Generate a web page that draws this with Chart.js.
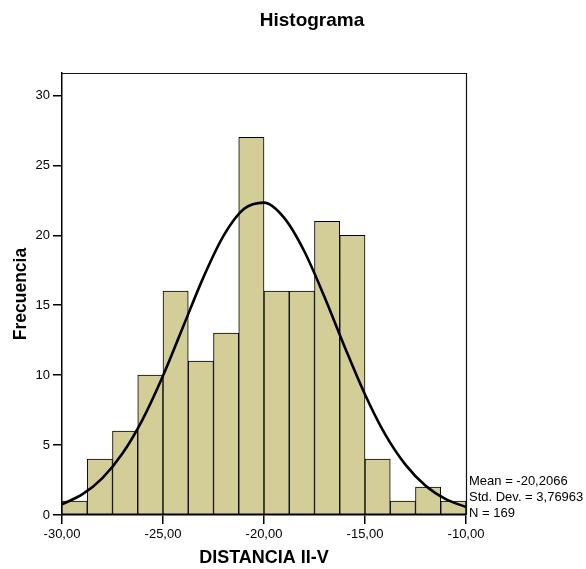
<!DOCTYPE html>
<html>
<head>
<meta charset="utf-8">
<script src="https://cdn.jsdelivr.net/npm/chart.js@4/dist/chart.umd.min.js"></script>
<style>
  body { margin: 0; background: #fff; }
  canvas { display: block; }
</style>
</head>
<body>
<canvas id="hist" width="586" height="569"></canvas>
<script>
// histogram bins (centres, width 1,25) and counts
var binCentres = [-29.375, -28.125, -26.875, -25.625, -24.375, -23.125, -21.875, -20.625,
                  -19.375, -18.125, -16.875, -15.625, -14.375, -13.125, -11.875, -10.625];
var binCounts = [1, 4, 6, 10, 16, 11, 13, 27, 16, 16, 21, 20, 4, 1, 2, 1];

// normal curve, read at each whole unit
var curveX = [-30, -29, -28, -27, -26, -25, -24, -23, -22, -21, -20,
              -19, -18, -17, -16, -15, -14, -13, -12, -11, -10];
var curveY = [0.77, 1.47, 2.64, 4.41, 6.86, 9.96, 13.48, 16.99, 19.97, 21.87, 22.33,
              21.24, 18.84, 15.57, 12.00, 8.62, 5.76, 3.60, 2.09, 1.13, 0.57];

var xTicks = [-30, -25, -20, -15, -10];
var statLines = ["Mean = -20,2066", "Std. Dev. = 3,76963", "N = 169"];

var FONT = "'Liberation Sans', Arial, sans-serif";

function commaFmt(v) {
    return v.toFixed(2).replace('.', ',');
}

// frame, title and the stats box
const extras = {
    id: 'extras',
    afterDraw(chart) {
        const ctx = chart.ctx;
        const a = chart.chartArea;
        ctx.save();
        ctx.strokeStyle = '#111';
        ctx.lineWidth = 1.2;
        ctx.beginPath();
        ctx.moveTo(a.left, a.top + 0.5);
        ctx.lineTo(a.right + 0.5, a.top + 0.5);
        ctx.lineTo(a.right + 0.5, a.bottom);
        ctx.stroke();

        ctx.fillStyle = '#000';
        ctx.font = 'bold 19px ' + FONT;
        ctx.textAlign = 'center';
        ctx.textBaseline = 'middle';
        ctx.fillText('Histograma', 312, 21);

        ctx.font = '13px ' + FONT;
        ctx.textAlign = 'left';
        for (let i = 0; i < statLines.length; i++) {
            ctx.fillText(statLines[i], a.right + 3, 481 + i * 16);
        }
        ctx.restore();
    }
};

const g1 = new Chart("hist", {
    type: "bar",
    data: {
        datasets: [{
            type: "line",
            label: "Normal",
            data: curveX.map((x, i) => ({x: x, y: curveY[i]})),
            borderColor: "#000",
            borderWidth: 2.6,
            pointRadius: 0,
            fill: false,
            cubicInterpolationMode: "monotone",
            order: 0
        }, {
            label: "Frecuencia",
            data: binCentres.map((x, i) => ({x: x, y: binCounts[i]})),
            backgroundColor: "rgb(211, 206, 152)",
            borderColor: "#000",
            borderWidth: 1,
            borderSkipped: false,
            barPercentage: 1,
            categoryPercentage: 1,
            order: 1
        }]
    },
    options: {
        responsive: false,
        animation: false,
        layout: { padding: { top: 73, right: 120, left: 0, bottom: 0 } },
        plugins: {
            legend: { display: false },
            tooltip: { enabled: false },
            title: { display: false }
        },
        scales: {
            x: {
                type: "linear",
                min: -30,
                max: -10,
                offset: false,
                afterFit: s => { s.height = 54; },
                afterBuildTicks: s => { s.ticks = xTicks.map(v => ({value: v})); },
                ticks: {
                    color: "#000",
                    font: { family: FONT, size: 13 },
                    padding: 3,
                    maxRotation: 0,
                    callback: v => commaFmt(v)
                },
                grid: { drawOnChartArea: false, offset: false, tickLength: 9, color: "#000", lineWidth: 1.5 },
                border: { color: "#000", width: 1.5 },
                title: {
                    display: true,
                    text: "DISTANCIA II-V",
                    color: "#000",
                    font: { family: FONT, size: 18, weight: "bold" },
                    padding: { top: 0, bottom: 0 }
                }
            },
            y: {
                min: 0,
                max: 31.6,
                afterFit: s => { s.width = 62; },
                ticks: {
                    stepSize: 5,
                    includeBounds: false,
                    color: "#000",
                    font: { family: FONT, size: 13 },
                    padding: 3
                },
                grid: { drawOnChartArea: false, tickLength: 9, color: "#000", lineWidth: 1.5 },
                border: { color: "#000", width: 1.5 },
                title: {
                    display: true,
                    text: "Frecuencia",
                    color: "#000",
                    font: { family: FONT, size: 17.5, weight: "bold" },
                    padding: { top: 11, bottom: 0 }
                }
            }
        }
    },
    plugins: [extras]
});
</script>
</body>
</html>
